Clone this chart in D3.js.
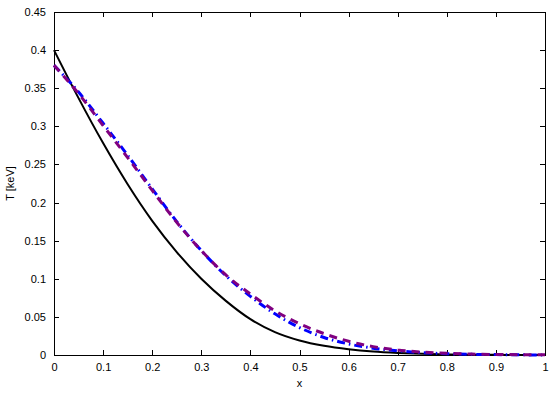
<!DOCTYPE html>
<html><head><meta charset="utf-8">
<script src="https://cdn.jsdelivr.net/npm/d3@7/dist/d3.min.js"></script>
<style>html,body{margin:0;padding:0;background:#fff}</style>
</head><body>
<script>
const xs = [0,0.05,0.1,0.15,0.2,0.25,0.3,0.35,0.4,0.45,0.5,0.55,0.6,0.65,0.7,0.75,0.8,0.85,0.9,0.95,1.0];
const blackT = [0.400,0.337,0.278,0.224,0.176,0.135,0.100,0.071,0.047,0.030,0.019,0.012,0.0075,0.0045,0.0027,0.0015,0.0008,0.0004,0.0002,0.0001,0];
const blueT = [0.380,0.345,0.304,0.262,0.218,0.175,0.137,0.104,0.077,0.054,0.036,0.023,0.0145,0.009,0.0055,0.003,0.0017,0.0009,0.0005,0.0002,0.0001];
const purpleT = [0.380,0.343,0.301,0.259,0.216,0.174,0.137,0.105,0.080,0.058,0.041,0.028,0.018,0.011,0.0065,0.0038,0.0022,0.0012,0.0007,0.0004,0.0002];
const xTicks = [0,0.1,0.2,0.3,0.4,0.5,0.6,0.7,0.8,0.9,1];
const yTicks = [0,0.05,0.1,0.15,0.2,0.25,0.3,0.35,0.4,0.45];

const W=554,H=395, L=54,R=545,T=12,B=355;
const svg=d3.select("body").append("svg").attr("width",W).attr("height",H)
  .style("font-family","'Liberation Sans',Arial,sans-serif");
const x=d3.scaleLinear().domain([0,1]).range([L,R]);
const y=d3.scaleLinear().domain([0,0.45]).range([B,T]);

const fmt=d=>String(+d.toFixed(2)).replace(/^(-?)0\./,"$10.");
// axes
const ax=svg.append("g").attr("font-size",11);
ax.append("g").attr("transform",`translate(0,${B})`)
  .call(d3.axisBottom(x).tickValues(xTicks).tickSizeInner(-5).tickSizeOuter(0).tickPadding(8).tickFormat(d=>String(d)));
ax.append("g").attr("transform",`translate(0,${T})`)
  .call(d3.axisTop(x).tickValues(xTicks).tickSizeInner(-5).tickSizeOuter(0).tickFormat(""));
ax.append("g").attr("transform",`translate(${L},0)`)
  .call(d3.axisLeft(y).tickValues(yTicks).tickSizeInner(-5).tickSizeOuter(0).tickPadding(8).tickFormat(d=>String(d)));
ax.append("g").attr("transform",`translate(${R},0)`)
  .call(d3.axisRight(y).tickValues(yTicks).tickSizeInner(-5).tickSizeOuter(0).tickFormat(""));
ax.selectAll("text").attr("fill","#000").attr("font-family","'Liberation Sans',Arial,sans-serif").attr("font-size",11);
ax.selectAll("path.domain").attr("stroke","#000");
ax.selectAll(".tick line").attr("stroke","#000");
svg.selectAll("path,line").attr("shape-rendering","crispEdges");

const line=(vals)=>d3.line().x((d,i)=>x(xs[i])).y(d=>y(d)).curve(d3.curveMonotoneX)(vals);
const plot=svg.append("g");
plot.append("path").attr("d",line(blackT)).attr("fill","none").attr("stroke","#000").attr("stroke-width",2);
plot.append("path").attr("d",line(blueT)).attr("fill","none").attr("stroke","#0000ff").attr("stroke-width",3)
  .attr("stroke-dasharray","8,4,1.5,4");
plot.append("path").attr("d",line(purpleT)).attr("fill","none").attr("stroke","#800080").attr("stroke-width",3)
  .attr("stroke-dasharray","8,6");

svg.append("text").attr("x",(L+R)/2).attr("y",387).attr("text-anchor","middle").attr("font-size",11).text("x");
svg.append("text").attr("transform",`translate(14,${(T+B)/2}) rotate(-90)`).attr("text-anchor","middle").attr("font-size",11).text("T [keV]");
</script>
</body></html>
